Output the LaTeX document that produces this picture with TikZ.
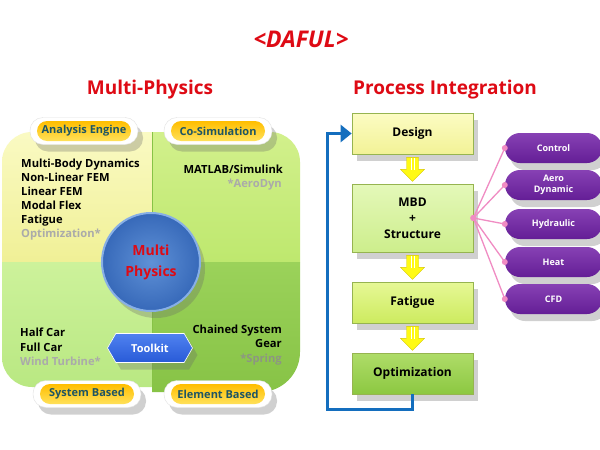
\documentclass[tikz,border=0pt]{standalone}
\usepackage{fontspec}
\setmainfont{Open Sans}
\usetikzlibrary{shadows,arrows.meta,shapes.symbols}
\definecolor{titlered}{RGB}{222,10,20}
\definecolor{labtext}{RGB}{30,85,100}
\definecolor{qtltop}{RGB}{250,250,195}
\definecolor{qtlbot}{RGB}{240,240,150}
\definecolor{qtrtop}{RGB}{210,240,140}
\definecolor{qtrbot}{RGB}{190,232,110}
\definecolor{qbltop}{RGB}{205,242,155}
\definecolor{qblbot}{RGB}{185,232,130}
\definecolor{qbrtop}{RGB}{155,210,90}
\definecolor{qbrbot}{RGB}{135,195,70}
\definecolor{graytxt}{RGB}{170,170,170}
\definecolor{graydark}{RGB}{140,150,130}
\definecolor{loopblue}{RGB}{20,110,190}
\definecolor{linkpink}{RGB}{240,140,195}
\definecolor{tagtop}{RGB}{255,190,0}
\definecolor{tagbot}{RGB}{255,225,90}
\definecolor{circin}{RGB}{95,145,215}
\definecolor{circout}{RGB}{55,105,185}
\definecolor{circedge}{RGB}{135,175,230}
\definecolor{tooltop}{RGB}{80,130,240}
\definecolor{toolbot}{RGB}{40,90,215}
\definecolor{boxedge}{RGB}{150,180,80}
\definecolor{dsgtop}{RGB}{252,252,195}
\definecolor{dsgbot}{RGB}{242,242,150}
\definecolor{mbdtop}{RGB}{228,248,185}
\definecolor{mbdbot}{RGB}{205,238,140}
\definecolor{fattop}{RGB}{230,248,150}
\definecolor{fatbot}{RGB}{205,235,95}
\definecolor{opttop}{RGB}{175,220,105}
\definecolor{optbot}{RGB}{140,200,65}
\definecolor{purtop}{RGB}{135,65,180}
\definecolor{purbot}{RGB}{100,30,150}
\definecolor{arrowyel}{RGB}{255,250,20}
\definecolor{arrowedge}{RGB}{215,200,0}
\tikzset{
  shd/.style={drop shadow={shadow xshift=5pt,shadow yshift=-7pt,opacity=.3,fill=black!60}},
  title/.style={font=\fontsize{19}{24}\selectfont\bfseries, text=titlered, inner sep=0},
  body/.style={font=\fontsize{11.2}{12}\selectfont\bfseries, inner sep=0, text=black},
  bodygray/.style={body, text=graytxt},
  shell/.style={fill=white, draw=black!12, rounded corners=13, minimum width=108, minimum height=27, shd},
  tag/.style={top color=tagtop, bottom color=tagbot, rounded corners=10, minimum width=94, minimum height=20,
     inner sep=0, text=labtext, font=\fontsize{11}{12}\selectfont\bfseries},
  pbox/.style={draw=boxedge, line width=0.7, minimum width=121, inner sep=0,
     font=\fontsize{12}{16}\selectfont\bfseries, align=center, shd},
  ppill/.style={rounded corners=15, minimum width=97, minimum height=30, inner sep=0,
     top color=purtop, bottom color=purbot, text=white, align=center,
     font=\fontsize{9}{10.5}\selectfont\bfseries, shd},
  yarrow/.pic={
    \fill[arrowyel, draw=arrowedge, line width=0.4] (-6,3) -- (6,3) -- (6,15) -- (12,15) -- (0,27) -- (-12,15) -- (-6,15) -- cycle;
    \draw[white, line width=0.8] (-1.5,4) -- (-1.5,16) (1.5,4) -- (1.5,16);
  }
}
\begin{document}
\begin{tikzpicture}[x=1pt,y=-1pt]
\useasboundingbox (0,0) rectangle (600,450);
\fill[white] (0,0) rectangle (600,450);

% titles
\node[title, font=\fontsize{23}{26}\selectfont\bfseries\itshape, anchor=base] (daful) at (301,47) {<DAFUL>};
\node[title, anchor=base] (mptitle) at (150,94) {Multi-Physics};
\node[title, anchor=base] (pititle) at (445,94) {Process Integration};

% quadrants
\path[top color=qtltop, bottom color=qtlbot] (152,262) -- (2,262) -- (2,162) arc[start angle=180,end angle=270,radius=30] -- (152,132) -- cycle;
\path[top color=qtrtop, bottom color=qtrbot] (152,262) -- (152,132) -- (270,132) arc[start angle=270,end angle=360,radius=30] -- (300,262) -- cycle;
\path[top color=qbltop, bottom color=qblbot] (152,262) -- (2,262) -- (2,357) arc[start angle=180,end angle=90,radius=30] -- (152,387) -- cycle;
\path[top color=qbrtop, bottom color=qbrbot] (152,262) -- (300,262) -- (300,352) arc[start angle=0,end angle=90,radius=40] -- (152,392) -- cycle;
\draw[qbrbot, line width=0.8] (152,132) -- (152,392);

% quadrant texts
\node[body, anchor=base west] (t1) at (21,167) {Multi-Body Dynamics};
\node[body, anchor=base west] (t2) at (21,181) {Non-Linear FEM};
\node[body, anchor=base west] (t3) at (21,195) {Linear FEM};
\node[body, anchor=base west] (t4) at (21,209) {Modal Flex};
\node[body, anchor=base west] (t5) at (21,223) {Fatigue};
\node[bodygray, anchor=base west] (t6) at (21,237) {Optimization*};
\node[body, anchor=base east] (t7) at (283,173) {MATLAB/Simulink};
\node[bodygray, anchor=base east] (t8) at (282,187) {*AeroDyn};
\node[body, anchor=base west] (t9) at (20,336) {Half Car};
\node[body, anchor=base west] (t10) at (20,351) {Full Car};
\node[bodygray, anchor=base west] (t11) at (20,365) {Wind Turbine*};
\node[body, anchor=base east] (t12) at (282,333) {Chained System};
\node[body, anchor=base east] (t13) at (282,347) {Gear};
\node[body, text=graydark, anchor=base east] (t14) at (282,362) {*Spring};

% circle
\node[circle, minimum size=98, inner color=circin, outer color=circout, draw=circedge, line width=2,
      text=titlered, align=center, font=\fontsize{14}{21}\selectfont\bfseries, shd] (mp) at (151,262) {Multi\\Physics};

% toolkit
\node[signal, signal to=west and east, signal pointer angle=120, minimum width=85, minimum height=29, inner sep=0,
      top color=tooltop, bottom color=toolbot, draw=white, line width=0.6, text=white,
      font=\fontsize{11}{12}\selectfont\bfseries, shd] (tool) at (150,348) {Toolkit};

% tags
\node[shell] (aeS) at (84,131) {};
\node[tag] (ae) at (aeS) {Analysis Engine};
\node[shell] (csS) at (218,131) {};
\node[tag] (cs) at (csS) {Co-Simulation};
\node[shell] (sbS) at (87,394) {};
\node[tag] (sb) at (sbS) {System Based};
\node[shell] (ebS) at (218,394) {};
\node[tag] (eb) at (ebS) {Element Based};

% process boxes
\node[pbox, minimum height=41, top color=dsgtop, bottom color=dsgbot] (design) at (412.5,133.5) {Design};
\node[pbox, minimum height=68, top color=mbdtop, bottom color=mbdbot] (mbd) at (412.5,218) {MBD\\+\\Structure};
\node[pbox, minimum height=41, top color=fattop, bottom color=fatbot] (fat) at (412.5,302.5) {Fatigue};
\node[pbox, minimum height=41, top color=opttop, bottom color=optbot] (opt) at (412.5,373.5) {Optimization};

\pic at (design.south) {yarrow};
\pic at (mbd.south) {yarrow};
\pic at (fat.south) {yarrow};

% loop
\coordinate (lb) at (327,409);
\draw[loopblue, line width=3, -{Triangle[length=11pt,width=17pt]}] (opt.south) |- (lb) |- (design.west);

% purple pills
\node[ppill] (ctrl) at (553.5,148) {Control};
\node[ppill] (aero) at (553.5,185) {Aero\\Dynamic};
\node[ppill] (hyd) at (553.5,224) {Hydraulic};
\node[ppill] (heat) at (553.5,262) {Heat};
\node[ppill] (cfd) at (553.5,299) {CFD};

\foreach \p in {ctrl,aero,hyd,heat,cfd}{
  \draw[linkpink, line width=1.3] (mbd.east) -- (\p.west);
  \fill[linkpink] (\p.west) circle (3);
}
\fill[linkpink] (mbd.east) circle (3.2);
\end{tikzpicture}
\end{document}
